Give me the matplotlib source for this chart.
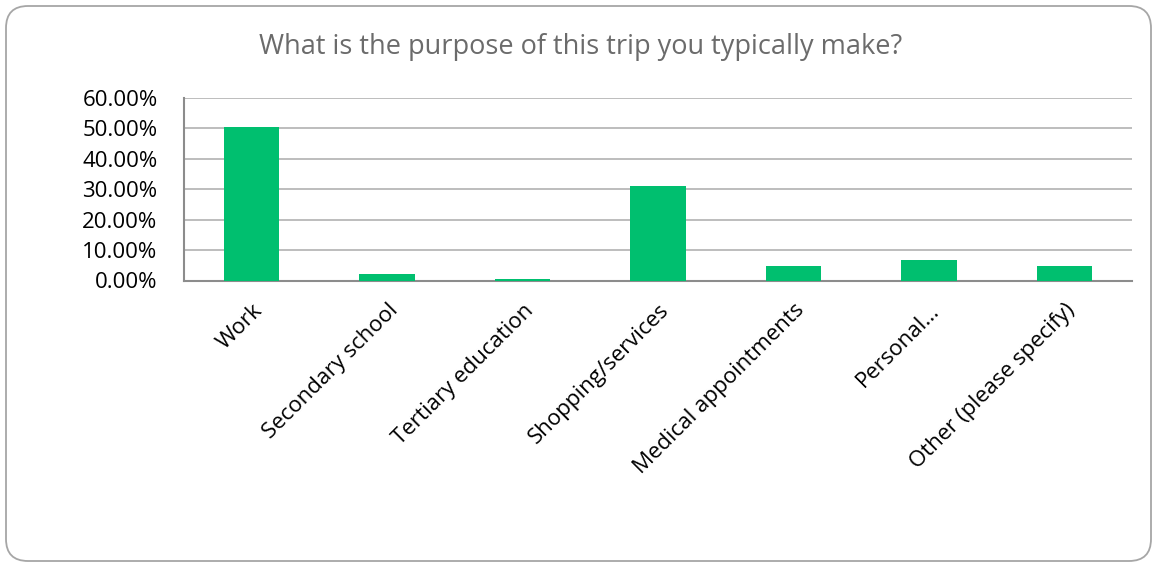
import matplotlib
matplotlib.use("Agg")
import matplotlib.pyplot as plt
from matplotlib.patches import FancyBboxPatch
from matplotlib.ticker import FuncFormatter

categories = ["Work", "Secondary school", "Tertiary education", "Shopping/services",
              "Medical appointments", "Personal…", "Other (please specify)"]
values = [50.4, 2.1, 0.4, 31.0, 4.7, 6.7, 4.7]
yticks = [0, 10, 20, 30, 40, 50, 60]
title = "What is the purpose of this trip you typically make?"

plt.rcParams['font.family'] = ['Open Sans', 'DejaVu Sans']

W, H = 1156, 562
fig = plt.figure(figsize=(W/100, H/100), dpi=100)

bg = fig.add_axes([0, 0, 1, 1], zorder=-1)
bg.set_xlim(0, W)
bg.set_ylim(H, 0)
bg.axis("off")
bg.add_patch(FancyBboxPatch((6, 6), W-11, H-7,
                            boxstyle="round,pad=0,rounding_size=22",
                            facecolor="white", edgecolor="#a6a6a6", linewidth=1.3))

ax = fig.add_axes([184/W, 1-280.5/H, 948/W, 182.5/H])
ax.set_facecolor("none")
x = range(len(categories))
ax.bar(x, values, width=0.41, color="#00bf6f", zorder=3)
ax.set_xlim(-0.5, len(categories)-0.5)
ax.set_ylim(0, 60)
ax.set_yticks(yticks)
ax.yaxis.set_major_formatter(FuncFormatter(lambda v, p: f"{v:.2f}%"))
ax.grid(axis="y", color="#b8b8b8", linewidth=1.3, zorder=0)
ax.set_xticks(list(x))
ax.set_xticklabels(categories, rotation=45, ha="right", rotation_mode="anchor", fontsize=16)
for s in ["top", "right"]:
    ax.spines[s].set_visible(False)
for s in ["left", "bottom"]:
    ax.spines[s].set_color("#8c8c8c")
    ax.spines[s].set_linewidth(1.5)
ax.tick_params(axis="y", length=0, labelsize=16, pad=19)
ax.tick_params(axis="x", length=0, pad=14)
fig.text(581/W, 1-47/H, title, ha="center", va="center",
         fontsize=19.5, color="#6b6b6b")
fig.savefig("out.png", dpi=100)
